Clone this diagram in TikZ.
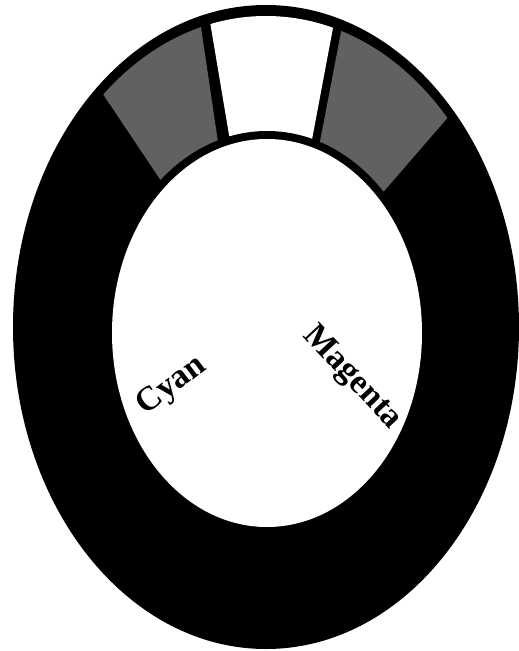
\documentclass[tikz,border=0pt]{standalone}
\usepackage{fontspec}
\setmainfont{Liberation Serif}
\tikzset{
  inkname/.style={font=\fontsize{34}{34}\selectfont\bfseries, inner sep=0pt},
  tonegray/.style={fill=black!62},
}
\begin{document}
\begin{tikzpicture}[x=1pt,y=-1pt]
  \useasboundingbox (0,0) rectangle (519,651);
  \coordinate (O) at (266,327);
  \coordinate (I) at (267,333);
  % black ring
  \fill[black] (O) ellipse (253 and 322);
  \begin{scope}
    \clip (O) ellipse (245 and 311);
    % the three top segments
    \fill[tonegray] (60,30) -- (194,-20) -- (231,230) -- (192,227) -- cycle;
    \fill[white] (203,-20) -- (342,-20) -- (295,230) -- (245,230) -- cycle;
    \fill[tonegray] (351,-20) -- (540,-20) -- (515,40) -- (346,235) -- (303,230) -- cycle;
  \end{scope}
  \fill[black] (I) ellipse (163 and 202);
  \fill[white] (I) ellipse (155 and 194);
  \node[inkname, rotate=37] (cyan) at (172,386) {Cyan};
  \node[inkname, rotate=-47] (magenta) at (352,378) {Magenta};
\end{tikzpicture}
\end{document}
